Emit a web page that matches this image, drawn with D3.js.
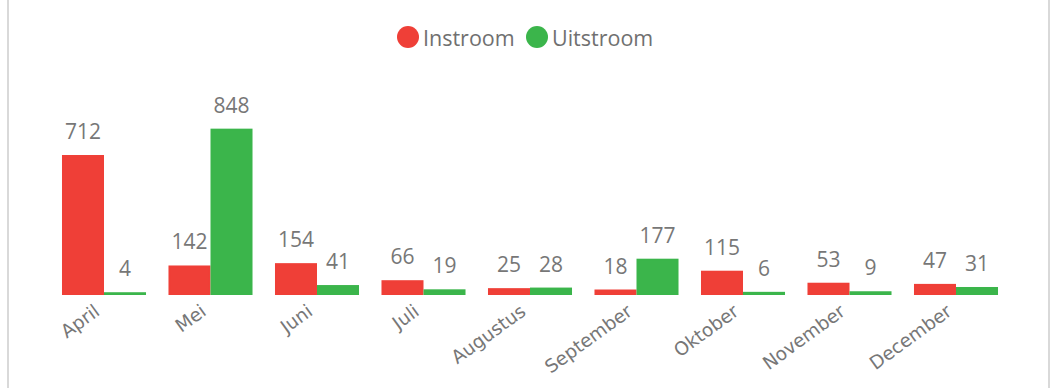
<!DOCTYPE html>
<html>
<head>
<meta charset="utf-8">
<script src="https://cdn.jsdelivr.net/npm/d3@7"></script>
<style>
  html, body { margin: 0; padding: 0; background: #fff; }
  svg { display: block; }
</style>
</head>
<body>
<svg id="chart" width="1052" height="388"></svg>
<script>
// Monthly inflow / outflow counts
const months = ["April", "Mei", "Juni", "Juli", "Augustus", "September", "Oktober", "November", "December"];
const instroom = [712, 142, 154, 66, 25, 18, 115, 53, 47];
const uitstroom = [4, 848, 41, 19, 28, 177, 6, 9, 31];
const seriesNames = ["Instroom", "Uitstroom"];
const seriesColors = ["#ef3f37", "#3bb54b"];

const W = 1052, H = 388;
const svg = d3.select("#chart");

// Chart frame
svg.append("rect")
  .attr("x", 8).attr("y", -10)
  .attr("width", 1041).attr("height", H + 20)
  .attr("fill", "none")
  .attr("stroke", "#d9d9d9")
  .attr("stroke-width", 2);

const baseY = 294;
const x0 = d3.scaleBand()
  .domain(months)
  .range([50.75, 1009.25])
  .paddingInner(0.211)
  .paddingOuter(0.1055);

const x1 = d3.scaleBand()
  .domain(seriesNames)
  .range([0, x0.bandwidth()]);

const y = d3.scaleLinear()
  .domain([0, 1000])
  .range([baseY, baseY - 193.8]);

const rows = months.map((m, i) => ({ month: m, values: [instroom[i], uitstroom[i]] }));

const groups = svg.append("g").selectAll("g")
  .data(rows)
  .join("g")
  .attr("transform", d => `translate(${x0(d.month)},0)`);

// Bars carry a 2px outline in their own colour
groups.selectAll("rect")
  .data(d => d.values.map((v, k) => ({ key: seriesNames[k], v, k })))
  .join("rect")
  .attr("x", d => x1(d.key) + 1)
  .attr("width", x1.bandwidth() - 2)
  .attr("y", d => y(d.v))
  .attr("height", d => baseY - y(d.v))
  .attr("fill", d => seriesColors[d.k])
  .attr("stroke", d => seriesColors[d.k])
  .attr("stroke-width", 2);

groups.selectAll("text.val")
  .data(d => d.values.map((v, k) => ({ key: seriesNames[k], v, k })))
  .join("text")
  .attr("class", "val")
  .attr("x", d => x1(d.key) + x1.bandwidth() / 2)
  .attr("y", d => y(d.v) - 17)
  .attr("text-anchor", "middle")
  .attr("font-family", "'Open Sans', sans-serif")
  .attr("font-size", 21)
  .attr("fill", "#777")
  .text(d => d.v);

// Category axis with rotated labels
const axis = svg.append("g")
  .attr("transform", `translate(0,295)`)
  .call(d3.axisBottom(x0).tickSize(0).tickPadding(0));
axis.select(".domain").remove();
axis.selectAll("text")
  .attr("font-family", "'DejaVu Sans', sans-serif")
  .attr("font-size", 18.5)
  .attr("fill", "#777")
  .attr("text-anchor", "end")
  .attr("dy", null)
  .attr("y", 0)
  .attr("transform", "translate(-3,19) rotate(-36)");

// Legend
const legend = svg.append("g");
const legendItems = [
  { name: seriesNames[0], color: seriesColors[0], cx: 408, tx: 423 },
  { name: seriesNames[1], color: seriesColors[1], cx: 537, tx: 552 }
];
legendItems.forEach(it => {
  legend.append("circle").attr("cx", it.cx).attr("cy", 37).attr("r", 11).attr("fill", it.color);
  legend.append("text")
    .attr("x", it.tx).attr("y", 45.5)
    .attr("font-family", "'Open Sans', sans-serif")
    .attr("font-size", 21.5)
    .attr("fill", "#707070")
    .text(it.name);
});
</script>
</body>
</html>
